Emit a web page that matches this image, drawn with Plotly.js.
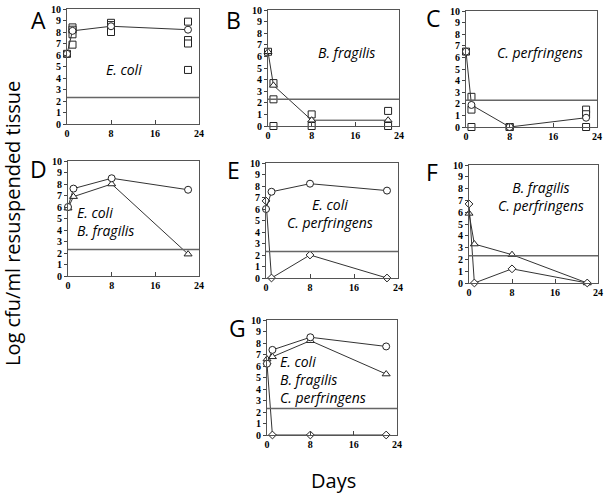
<!DOCTYPE html>
<html>
<head>
<meta charset="utf-8">
<script src="https://cdn.plot.ly/plotly-3.0.1.min.js"></script>
<style>html,body{margin:0;padding:0;background:#fff;}#chart{width:608px;height:493px;}</style>
</head>
<body>
<div id="chart"></div>
<script>
// ---- data ----
const days = [0, 1, 8, 22];
const detectionLimit = 2.3;
const xTickVals = [0, 8, 16, 24];
const yTickVals = [0, 1, 2, 3, 4, 5, 6, 7, 8, 9, 10];

// Panel A: E. coli alone
const aCircle = [6.1, 8.1, 8.5, 8.2];
const aSquareDays = [0, 1, 1, 1, 1, 8, 8, 8, 8, 22, 22, 22, 22];
const aSquare = [6.1, 8.4, 8.2, 7.8, 6.9, 8.8, 8.6, 8.2, 8.0, 8.9, 7.3, 7.0, 4.7];

// Panel B: B. fragilis alone
const bTriangle = [6.4, 3.5, 0.5, 0.5];
const bSquareDays = [0, 1, 1, 1, 8, 8, 22, 22];
const bSquare = [6.4, 3.7, 2.3, 0, 1.0, 0, 1.3, 0];

// Panel C: C. perfringens alone
const cCircle = [6.5, 1.9, 0, 0.8];
const cSquareDays = [0, 1, 1, 1, 8, 8, 22, 22, 22];
const cSquare = [6.5, 2.6, 1.5, 0, 0, 0, 1.5, 1.1, 0];

// Panel D: E. coli + B. fragilis
const dEcoli = [6.0, 7.6, 8.5, 7.5];
const dBfrag = [5.9, 6.9, 8.0, 1.9];

// Panel E: E. coli + C. perfringens
const eEcoli = [6.0, 7.5, 8.2, 7.6];
const eCperf = [6.7, 0, 2.0, 0];

// Panel F: B. fragilis + C. perfringens
const fBfrag = [5.9, 3.3, 2.4, 0];
const fCperf = [6.7, 0, 1.2, 0];

// Panel G: all three
const gEcoli = [6.2, 7.4, 8.5, 7.7];
const gBfrag = [6.6, 6.8, 8.2, 5.3];
const gCperf = [6.2, 0, 0, 0];

const panelLetters = ['A', 'B', 'C', 'D', 'E', 'F', 'G'];
const panelLabels = [
  ['E. coli'],
  ['B. fragilis'],
  ['C. perfringens'],
  ['E. coli', 'B. fragilis'],
  ['E. coli', 'C. perfringens'],
  ['B. fragilis', 'C. perfringens'],
  ['E. coli', 'B. fragilis', 'C. perfringens']
];

// ---- layout geometry (pixels) ----
const W = 608, H = 493;
const boxes = [
  [67, 199, 9, 124],
  [268, 399, 10, 126],
  [466, 597, 11, 127],
  [68, 199, 161, 276],
  [266, 398, 163, 278],
  [469, 598, 165, 283],
  [267, 397, 320, 435]
];
const letterPos = [[38, 20], [233, 20], [433, 18], [38, 169], [233, 170], [432, 172], [237, 328]];
// [x, yCenter, anchor]
const labelPos = [
  [124, 70, 'center'],
  [346, 52, 'center'],
  [540, 52, 'center'],
  [75, 221, 'left'],
  [330, 214, 'center'],
  [541, 196, 'center'],
  [278, 379, 'left']
];

const lineC = '#333';
function trace(i, x, y, symbol, mode, size) {
  const n = i === 0 ? '' : String(i + 1);
  return {
    x: x, y: y, xaxis: 'x' + n, yaxis: 'y' + n,
    mode: mode, type: 'scatter', cliponaxis: false, showlegend: false,
    line: {color: lineC, width: 1},
    marker: {symbol: symbol, size: size || 7, color: '#fff', line: {color: '#222', width: 1}}
  };
}

const data = [
  trace(0, aSquareDays, aSquare, 'square', 'markers', 7),
  trace(0, days, aCircle, 'circle', 'lines+markers', 7),
  trace(1, bSquareDays, bSquare, 'square', 'markers', 7),
  trace(1, days, bTriangle, 'triangle-up', 'lines+markers', 7),
  trace(2, cSquareDays, cSquare, 'square', 'markers', 7),
  trace(2, days, cCircle, 'circle', 'lines+markers', 7),
  trace(3, days, dBfrag, 'triangle-up', 'lines+markers', 7),
  trace(3, days, dEcoli, 'circle', 'lines+markers', 7),
  trace(4, days, eCperf, 'diamond', 'lines+markers', 6),
  trace(4, days, eEcoli, 'circle', 'lines+markers', 7),
  trace(5, days, fBfrag, 'triangle-up', 'lines+markers', 7),
  trace(5, days, fCperf, 'diamond', 'lines+markers', 6),
  trace(6, days, gCperf, 'diamond', 'lines+markers', 6),
  trace(6, days, gBfrag, 'triangle-up', 'lines+markers', 7),
  trace(6, days, gEcoli, 'circle', 'lines+markers', 7)
];

const tickFont = {family: 'Liberation Serif', size: 10, color: '#000', weight: 700};
const layout = {
  width: W, height: H,
  margin: {l: 0, r: 0, t: 0, b: 0},
  paper_bgcolor: '#fff', plot_bgcolor: '#fff',
  showlegend: false,
  annotations: [], shapes: []
};

boxes.forEach((b, i) => {
  const n = i === 0 ? '' : String(i + 1);
  layout['xaxis' + n] = {
    domain: [b[0] / W, b[1] / W], anchor: 'y' + n,
    range: [0, 24], tickvals: xTickVals, ticks: 'inside', ticklen: 4, tickcolor: '#444',
    showline: true, mirror: true, linecolor: '#555', linewidth: 1,
    showgrid: false, zeroline: false, tickfont: tickFont, fixedrange: true
  };
  layout['yaxis' + n] = {
    domain: [1 - b[3] / H, 1 - b[2] / H], anchor: 'x' + n,
    range: [0, 10], tickvals: yTickVals, ticks: 'outside', ticklen: 3, tickcolor: '#444',
    showline: true, mirror: true, linecolor: '#555', linewidth: 1,
    showgrid: false, zeroline: false, tickfont: tickFont, fixedrange: true
  };
  layout.shapes.push({
    type: 'line', xref: 'x' + n + ' domain', yref: 'y' + n,
    x0: 0, x1: 1, y0: detectionLimit, y1: detectionLimit,
    line: {color: '#666', width: 1.5}
  });
  layout.annotations.push({
    text: panelLetters[i], xref: 'paper', yref: 'paper',
    x: letterPos[i][0] / W, y: 1 - letterPos[i][1] / H,
    xanchor: 'center', yanchor: 'middle', showarrow: false,
    font: {family: 'Open Sans, sans-serif', size: 23, color: '#000'}
  });
  const lp = labelPos[i];
  layout.annotations.push({
    text: panelLabels[i].map(t => '<i>' + t + '</i>').join('<br>'),
    xref: 'paper', yref: 'paper',
    x: lp[0] / W, y: 1 - lp[1] / H,
    xanchor: lp[2], yanchor: 'middle', align: lp[2], showarrow: false,
    font: {family: 'Open Sans, sans-serif', size: 14, color: '#000'}
  });
});

layout.annotations.push({
  text: 'Log cfu/ml resuspended tissue', xref: 'paper', yref: 'paper',
  x: 12 / W, y: 1 - 224 / H, textangle: -90,
  xanchor: 'center', yanchor: 'middle', showarrow: false,
  font: {family: 'Open Sans, sans-serif', size: 20, color: '#000'}
});
layout.annotations.push({
  text: 'Days', xref: 'paper', yref: 'paper',
  x: 333 / W, y: 1 - 480 / H,
  xanchor: 'center', yanchor: 'middle', showarrow: false,
  font: {family: 'Open Sans, sans-serif', size: 20, color: '#000'}
});

Plotly.newPlot('chart', data, layout, {displayModeBar: false, staticPlot: true});
</script>
</body>
</html>
